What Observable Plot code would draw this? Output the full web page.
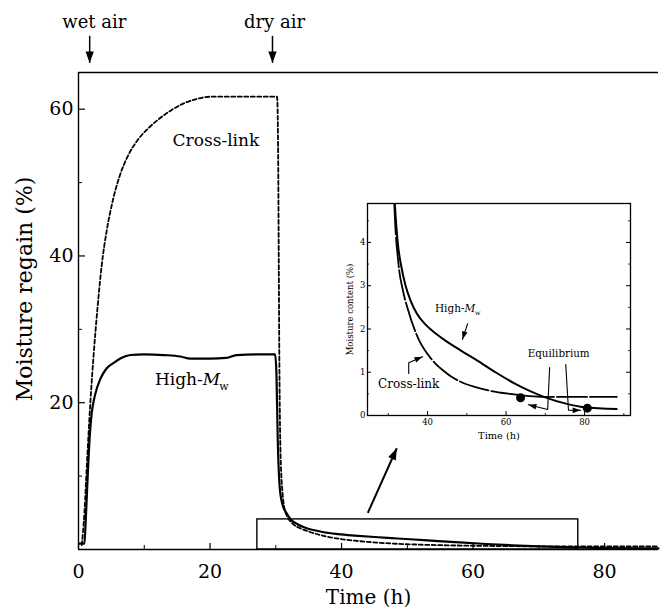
<!DOCTYPE html>
<html><head><meta charset="utf-8">
<script src="https://cdn.jsdelivr.net/npm/d3@7"></script>
<script src="https://cdn.jsdelivr.net/npm/@observablehq/plot@0.6"></script>
<style>
 body{margin:0;background:#fff}
 #fig{position:relative;width:660px;height:608px;background:#fff;overflow:hidden}
</style></head><body><div id="fig"></div>
<script>
// ---- series (time in h, moisture in %) ----
const highMw = [[0.1,0.8],[0.9,0.8],[1.1,4],[1.3,8],[1.5,12],[1.75,16],[2.0,18.5],[2.5,21],[3.35,23.3],[4.2,24.6],[5.3,25.4],[6.5,26.1],[7.9,26.5],[10,26.6],[13,26.5],[15.5,26.3],[17,26.0],[20,26.0],[22.5,26.1],[24,26.5],[27,26.6],[29.9,26.6],[30.1,24],[30.3,15],[30.6,8.5],[31.0,6.2],[31.6,5.0],[32.4,4.0],[33.3,3.45],[34.4,3.0],[35.7,2.65],[37.3,2.35],[39.5,2.1],[42,1.9],[45,1.7],[48.5,1.5],[52.5,1.28],[57.3,1.0],[62,0.75],[66,0.57],[70,0.42],[75,0.28],[80,0.19],[88.2,0.15]];
const crossLink = [[0.5,0.6],[0.9,5],[1.3,12],[1.8,20],[2.3,26.5],[2.9,33],[3.5,38.5],[4.3,43.5],[5.2,47.5],[6.3,51],[7.5,53.6],[9,55.8],[10.5,57.3],[12,58.5],[14,59.8],[16,60.8],[18,61.4],[20,61.7],[24,61.7],[28,61.7],[30.2,61.7],[30.35,55],[30.45,40],[30.55,25],[30.7,14],[31.0,8],[31.5,5],[32.6,3.5],[33.7,2.9],[35,2.45],[37.8,1.75],[40,1.42],[42,1.2],[44,1.04],[46,0.9],[48.4,0.78],[52,0.66],[56,0.57],[61,0.5],[66,0.45],[72,0.43],[88.2,0.43]];
const equilibrium = [[63.7,0.41],[80.7,0.17]];

// ---- ticks ----
const xTicks = [0,20,40,60,80];
const xMinor = [10,30,50,70];
const yTicks = [20,40,60];
const yMinor = [10,30,50];
const insetXTicks = [40,60,80];
const insetXMinor = [30,50,70,90];
const insetYTicks = [0,1,2,3,4];
const insetYMinor = [0.5,1.5,2.5,3.5,4.5];

// ---- annotations ----
const airLabels = [{t:2.4, v:71.9, text:"wet air"}, {t:29.8, v:71.9, text:"dry air"}];
const airArrows = [{t1:1.7, v1:70.0, t2:1.7, v2:66.3, a:180}, {t1:29.5, v1:70.0, t2:29.5, v2:66.3, a:180}];
const zoomArrow = [{t1:44.0, v1:5.0, t2:48.4, v2:13.8, a:24.4}];
const zoomBox = [{t1:27.2, t2:76, v1:0, v2:4.1}];
const mainCross = [{t:20.9, v:55.7, text:"Cross-link"}];
const mainHigh = [{t:18.9, v:23.1}];
const insetHigh = [{t:49.4, v:2.47}];
const insetCross = [{t:35.2, v:0.72, text:"Cross-link"}];
const insetEq = [{t:73.4, v:1.43, text:"Equilibrium"}];
const insetLeaders = [
  {id:"h", pts:[[50.2,2.12],[48.9,1.76]], a:197},
  {id:"c", pts:[[35.2,0.97],[35.2,1.22],[38.7,1.36]], a:66.8},
  {id:"e1", pts:[[71.1,1.11],[70.6,0.14],[65.7,0.25]], a:-75},
  {id:"e2", pts:[[75.2,1.18],[75.9,0.12],[79.0,0.12]], a:90}
];

const serif = "'DejaVu Serif','Liberation Serif',serif";
const head = {draw(ctx, size){ const s = Math.sqrt(size); ctx.moveTo(0,0); ctx.lineTo(-s*0.36, s); ctx.lineTo(s*0.36, s); ctx.closePath(); }};

const hm = highMw.map(([t,v]) => ({t, v}));
const cl = crossLink.map(([t,v]) => ({t, v}));

const main = Plot.plot({
  width: 660, height: 608,
  marginLeft: 78, marginRight: 2, marginTop: 72, marginBottom: 59,
  x: {domain: [0, 88.2]},
  y: {domain: [0, 65]},
  style: {fontFamily: serif, background: "transparent", color: "black", overflow: "visible"},
  marks: [
    Plot.axisX(xTicks, {tickSize: 0, tickPadding: 15, fontSize: 19, label: null, fontFamily: serif}),
    Plot.axisY(yTicks, {tickSize: 0, tickPadding: 5, fontSize: 19, label: null, fontFamily: serif}),
    Plot.tickX(xTicks, {x: d => d, insetTop: 471, stroke: "black", strokeWidth: 1.2}),
    Plot.tickX(xMinor, {x: d => d, insetTop: 473, stroke: "black", strokeWidth: 1}),
    Plot.tickY(yTicks, {y: d => d, insetRight: 573, stroke: "black", strokeWidth: 1.2}),
    Plot.tickY(yMinor, {y: d => d, insetRight: 576, stroke: "black", strokeWidth: 1}),
    Plot.ruleY([0], {stroke: "black", strokeWidth: 1.6}),
    Plot.ruleY([65], {stroke: "black", strokeWidth: 1.6}),
    Plot.ruleX([0], {stroke: "black", strokeWidth: 1.4}),
    Plot.rect(zoomBox, {x1: "t1", x2: "t2", y1: "v1", y2: "v2", fill: "none", stroke: "black", strokeWidth: 1.4}),
    Plot.line(cl, {x: "t", y: "v", stroke: "black", strokeWidth: 1.8, strokeDasharray: "4,2.5", curve: "monotone-x"}),
    Plot.line(hm, {x: "t", y: "v", stroke: "black", strokeWidth: 2.2, curve: "monotone-x"}),
    Plot.link(airArrows, {x1: "t1", y1: "v1", x2: "t2", y2: "v2", stroke: "black", strokeWidth: 1.5}),
    Plot.dot(airArrows, {x: "t2", y: "v2", symbol: head, r: 6.5, fill: "black", stroke: "none", rotate: "a"}),
    Plot.link(zoomArrow, {x1: "t1", y1: "v1", x2: "t2", y2: "v2", stroke: "black", strokeWidth: 2}),
    Plot.dot(zoomArrow, {x: "t2", y: "v2", symbol: head, r: 6.5, fill: "black", stroke: "none", rotate: "a"}),
    Plot.text(airLabels, {x: "t", y: "v", text: "text", fontSize: 18}),
    Plot.text(mainCross, {x: "t", y: "v", text: "text", fontSize: 17}),
    Plot.text(mainHigh, {x: "t", y: "v", text: () => "High-", textAnchor: "end", fontSize: 17}),
    Plot.text(mainHigh, {x: "t", y: "v", text: () => "M", textAnchor: "start", fontStyle: "italic", fontSize: 17}),
    Plot.text(mainHigh, {x: "t", y: "v", text: () => "w", textAnchor: "start", dx: 16.5, dy: 6, fontSize: 11}),
    Plot.text(["Moisture regain (%)"], {frameAnchor: "left", textAnchor: "middle", lineAnchor: "middle", dx: -54, dy: -22, rotate: -90, fontSize: 22}),
    Plot.text(["Time (h)"], {frameAnchor: "bottom", lineAnchor: "middle", dy: 48, fontSize: 20})
  ]
});

const leaderPts = insetLeaders.flatMap(l => l.pts.map(([t,v]) => ({id: l.id, t, v})));
const leaderTips = insetLeaders.map(l => ({t: l.pts[l.pts.length-1][0], v: l.pts[l.pts.length-1][1], a: l.a}));

const inset = Plot.plot({
  width: 310, height: 255,
  marginLeft: 37, marginRight: 10, marginTop: 13, marginBottom: 30,
  x: {domain: [24.7, 91.7]},
  y: {domain: [0, 4.9]},
  style: {fontFamily: serif, background: "transparent", color: "black", overflow: "visible"},
  marks: [
    Plot.frame({stroke: "black", strokeWidth: 1.3}),
    Plot.axisX(insetXTicks, {tickSize: 0, tickPadding: 3, fontSize: 8.5, label: null, fontFamily: serif}),
    Plot.axisY(insetYTicks, {tickSize: 0, tickPadding: 2, fontSize: 8.5, label: null, fontFamily: serif}),
    Plot.tickX(insetXTicks, {x: d => d, insetTop: 208, stroke: "black"}),
    Plot.tickX(insetXMinor, {x: d => d, insetTop: 210, stroke: "black", strokeWidth: 0.8}),
    Plot.tickY(insetYTicks, {y: d => d, insetRight: 259, stroke: "black"}),
    Plot.tickY(insetYMinor, {y: d => d, insetRight: 261, stroke: "black", strokeWidth: 0.8}),
    Plot.tickY(insetYTicks, {y: d => d, insetLeft: 259, stroke: "black"}),
    Plot.tickY(insetYMinor, {y: d => d, insetLeft: 261, stroke: "black", strokeWidth: 0.8}),
    Plot.line(cl, {x: "t", y: "v", stroke: "black", strokeWidth: 1.8, strokeDasharray: "30,3", curve: "monotone-x", clip: true}),
    Plot.line(hm, {x: "t", y: "v", stroke: "black", strokeWidth: 2, curve: "monotone-x", clip: true}),
    Plot.dot(equilibrium, {x: d => d[0], y: d => d[1], r: 4.5, fill: "black", stroke: "none"}),
    Plot.line(leaderPts, {x: "t", y: "v", z: "id", stroke: "black", strokeWidth: 1.1}),
    Plot.dot(leaderTips, {x: "t", y: "v", symbol: head, r: 4.5, fill: "black", stroke: "none", rotate: "a"}),
    Plot.text(insetHigh, {x: "t", y: "v", text: () => "High-", textAnchor: "end", fontSize: 10.5}),
    Plot.text(insetHigh, {x: "t", y: "v", text: () => "M", textAnchor: "start", fontStyle: "italic", fontSize: 10.5}),
    Plot.text(insetHigh, {x: "t", y: "v", text: () => "w", textAnchor: "start", dx: 10.5, dy: 4, fontSize: 6.5}),
    Plot.text(insetCross, {x: "t", y: "v", text: "text", fontSize: 12}),
    Plot.text(insetEq, {x: "t", y: "v", text: "text", fontSize: 10.3}),
    Plot.text(["Moisture content (%)"], {frameAnchor: "left", textAnchor: "middle", lineAnchor: "middle", dx: -17, rotate: -90, fontSize: 8.5}),
    Plot.text(["Time (h)"], {frameAnchor: "bottom", lineAnchor: "middle", dy: 20, fontSize: 9.8})
  ]
});
inset.style.position = "absolute";
inset.style.left = "330px";
inset.style.top = "190px";

const fig = document.getElementById("fig");
fig.appendChild(main);
fig.appendChild(inset);
</script></body></html>
